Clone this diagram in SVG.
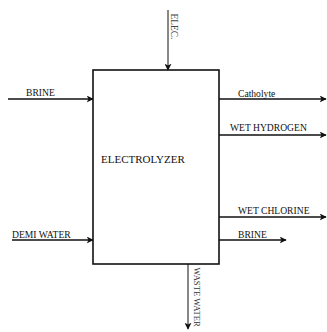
<svg xmlns="http://www.w3.org/2000/svg" width="327" height="332" viewBox="0 0 327 332">
<style>
text{font-family:"Liberation Serif","Times New Roman",serif;font-size:9.6px;fill:#111}
.big{font-size:11px}
.c{fill:none;stroke:#111;stroke-width:1.4}
.thin{stroke-width:1}
.box{fill:#fff;stroke:#111;stroke-width:1.6}
</style>
<defs>
<marker id="ah" viewBox="0 0 10 10" refX="9" refY="5" markerWidth="7" markerHeight="7" markerUnits="userSpaceOnUse" orient="auto">
<path d="M0,0 L10,5 L0,10 L2.5,5 Z" fill="#111"/>
</marker>
</defs>
<rect width="327" height="332" fill="#fff"/>
<g id="connectors">
<path class="c thin" d="M168,10 V70" marker-end="url(#ah)"/>
<path class="c" d="M8,99 H93" marker-end="url(#ah)"/>
<path class="c" d="M12,240 H93" marker-end="url(#ah)"/>
<path class="c" d="M219,99 H326" marker-end="url(#ah)"/>
<path class="c" d="M219,135 H326" marker-end="url(#ah)"/>
<path class="c" d="M219,217 H326" marker-end="url(#ah)"/>
<path class="c" d="M219,240 H286" marker-end="url(#ah)"/>
<path class="c thin" d="M188,264 V329" marker-end="url(#ah)"/>
</g>
<g id="electrolyzer">
<rect class="box" x="93" y="70" width="126" height="194"/>
<text class="big" x="101" y="163">ELECTROLYZER</text>
</g>
<g id="labels">
<text x="170.5" y="13.5" transform="rotate(90 170.5 13.5)" style="fill:#444;font-size:9.4px">ELEC.</text>
<text x="26" y="96">BRINE</text>
<text x="12" y="237.7">DEMI WATER</text>
<text x="238" y="96.5">Catholyte</text>
<text x="230" y="131">WET HYDROGEN</text>
<text x="238" y="214">WET CHLORINE</text>
<text x="238" y="237.7">BRINE</text>
<text x="194" y="267.5" transform="rotate(90 194 267.5)" style="fill:#333;font-size:8.6px">WASTE WATER</text>
</g>
</svg>
